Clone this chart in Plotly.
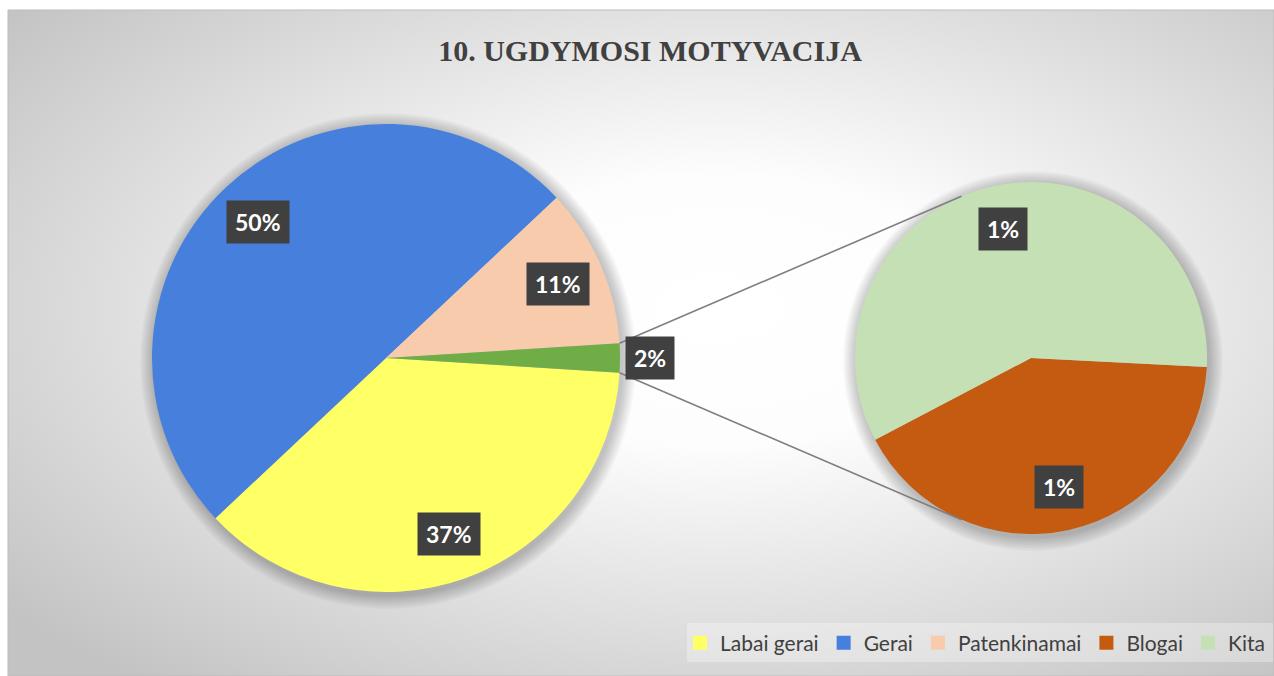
import math
import base64
import plotly.graph_objects as go

# ---------------- data ----------------
title_text = "10. UGDYMOSI MOTYVACIJA"

main_labels = ["Labai gerai", "Gerai", "Patenkinamai", "Kita"]   # last slice = "other" group split in the 2nd pie
main_values = [37, 50, 11, 2]
main_text = ["37%", "50%", "11%", "2%"]
main_colors = ["#FFFF66", "#467FDC", "#F8CBAD", "#70AD47"]

sub_labels = ["Blogai", "Kita"]
sub_values = [0.83, 1.17]
sub_text = ["1%", "1%"]
sub_colors = ["#C55A11", "#C5E0B4"]

legend_labels = ["Labai gerai", "Gerai", "Patenkinamai", "Blogai", "Kita"]
legend_colors = ["#FFFF66", "#467FDC", "#F8CBAD", "#C55A11", "#C5E0B4"]

# ---------------- layout geometry (pixels) ----------------
W, H = 1274, 676
MAIN_C, MAIN_R = (386, 358), 234
SUB_C, SUB_R = (1031, 358), 176
SUB_ROTATION = 92.9
PANEL = (8, 10, 1274, 676)


def px(x):
    return x / W


def py(y):
    return 1 - y / H


def domain(c, r):
    return dict(x=[px(c[0] - r), px(c[0] + r)], y=[py(c[1] + r), py(c[1] - r)])


def slice_mid(values, i, rotation):
    tot = sum(values)
    cum = sum(values[:i])
    return rotation + (cum + values[i] / 2) / tot * 360


def polar(c, r, ang):  # ang clockwise from 12 o'clock, degrees
    a = math.radians(ang)
    return c[0] + r * math.sin(a), c[1] - r * math.cos(a)


other_half = main_values[-1] / sum(main_values) * 180
main_rotation = 90 + other_half

fig = go.Figure()

# legend entries
for lab, col in zip(legend_labels, legend_colors):
    fig.add_trace(go.Scatter(x=[None], y=[None], mode="markers", name=lab,
                             marker=dict(symbol="square", size=14, color=col),
                             showlegend=True, hoverinfo="skip"))

fig.add_trace(go.Pie(labels=main_labels, values=main_values, sort=False,
                     direction="clockwise", rotation=main_rotation,
                     marker=dict(colors=main_colors, line=dict(width=0)),
                     textinfo="none", showlegend=False, domain=domain(MAIN_C, MAIN_R)))
fig.add_trace(go.Pie(labels=sub_labels, values=sub_values, sort=False,
                     direction="clockwise", rotation=SUB_ROTATION,
                     marker=dict(colors=sub_colors, line=dict(width=0)),
                     textinfo="none", showlegend=False, domain=domain(SUB_C, SUB_R)))

# ---------------- background (radial gradient panel) ----------------
pw, ph = PANEL[2] - PANEL[0], PANEL[3] - PANEL[1]
svg = (f"<svg xmlns='http://www.w3.org/2000/svg' width='{pw}' height='{ph}' viewBox='0 0 {pw} {ph}' "
       f"preserveAspectRatio='none'><defs><radialGradient id='g' cx='0.56' cy='0.45' r='0.72'>"
       f"<stop offset='0' stop-color='#ffffff'/><stop offset='0.28' stop-color='#fdfdfd'/>"
       f"<stop offset='1' stop-color='#c3c3c3'/></radialGradient></defs>"
       f"<rect width='{pw}' height='{ph}' fill='url(#g)'/></svg>")
src = "data:image/svg+xml;base64," + base64.b64encode(svg.encode()).decode()
fig.add_layout_image(dict(source=src, xref="paper", yref="paper", x=px(PANEL[0]), y=py(PANEL[1]),
                          sizex=pw / W, sizey=ph / H, xanchor="left", yanchor="top",
                          sizing="stretch", layer="below"))

shapes = []
shapes.append(dict(type="rect", xref="paper", yref="paper", x0=px(PANEL[0]), x1=px(PANEL[2]),
                   y0=py(PANEL[3]), y1=py(PANEL[1]), line=dict(color="#BDBDBD", width=1),
                   fillcolor="rgba(0,0,0,0)", layer="below"))
# soft shadows behind pies
for c, r in ((MAIN_C, MAIN_R), (SUB_C, SUB_R)):
    for k in range(1, 11):
        rr = r + k * 1.4
        cx, cy = c[0] + 2, c[1] + 3
        shapes.append(dict(type="circle", xref="paper", yref="paper",
                           x0=px(cx - rr), x1=px(cx + rr), y0=py(cy + rr), y1=py(cy - rr),
                           line=dict(width=0), fillcolor="rgba(0,0,0,0.022)", layer="below"))


# connector lines: edges of "other" slice -> tangents of second pie
def tangent(p, top):
    vx, vy = p[0] - SUB_C[0], -(p[1] - SUB_C[1])
    d = math.hypot(vx, vy)
    phi = math.atan2(vy, vx)
    alpha = math.acos(SUB_R / d)
    th = phi - alpha if top else phi + alpha
    return SUB_C[0] + SUB_R * math.cos(th), SUB_C[1] - SUB_R * math.sin(th)


for ang, top in ((90 - other_half, True), (90 + other_half, False)):
    p = polar(MAIN_C, MAIN_R, ang)
    t = tangent(p, top)
    shapes.append(dict(type="line", xref="paper", yref="paper", x0=px(p[0]), y0=py(p[1]),
                       x1=px(t[0]), y1=py(t[1]), line=dict(color="#7F7F7F", width=1.6)))

# legend box
shapes.append(dict(type="rect", xref="paper", yref="paper", x0=px(687), x1=px(1273),
                   y0=py(662), y1=py(623), line=dict(width=0),
                   fillcolor="rgba(255,255,255,0.3)", layer="below"))

# ---------------- data labels ----------------
annotations = []


def add_label(x, y, txt):
    annotations.append(dict(x=px(x), y=py(y), xref="paper", yref="paper", text=txt,
                            xanchor="center", yanchor="middle",
                            showarrow=False, height=26, borderpad=8, bgcolor="#404040",
                            font=dict(family="Lato", size=23, color="white", weight="bold")))


for i, txt in enumerate(main_text):
    f = 1.13 if i == len(main_text) - 1 else 0.8
    x, y = polar(MAIN_C, MAIN_R * f, slice_mid(main_values, i, main_rotation))
    add_label(x, y, txt)
for i, txt in enumerate(sub_text):
    x, y = polar(SUB_C, SUB_R * 0.75, slice_mid(sub_values, i, SUB_ROTATION))
    add_label(x, y, txt)

fig.update_layout(
    width=W, height=H, margin=dict(l=0, r=0, t=0, b=0),
    paper_bgcolor="white", plot_bgcolor="rgba(0,0,0,0)",
    xaxis=dict(visible=False), yaxis=dict(visible=False),
    title=dict(text=title_text, x=px(650), y=py(50), xanchor="center", yanchor="middle",
               font=dict(family="Liberation Serif", size=30, color="#404040", weight="bold")),
    legend=dict(orientation="h", x=px(1270), xanchor="right", y=py(643), yanchor="middle",
                bgcolor="rgba(0,0,0,0)", font=dict(family="Lato", size=21, color="#404040"),
                itemwidth=30, traceorder="normal"),
    shapes=shapes, annotations=annotations, hovermode=False,
)

fig.write_html("out.html", config={"displayModeBar": False},
               post_script="document.body.style.margin='0';document.body.style.overflow='hidden';")
